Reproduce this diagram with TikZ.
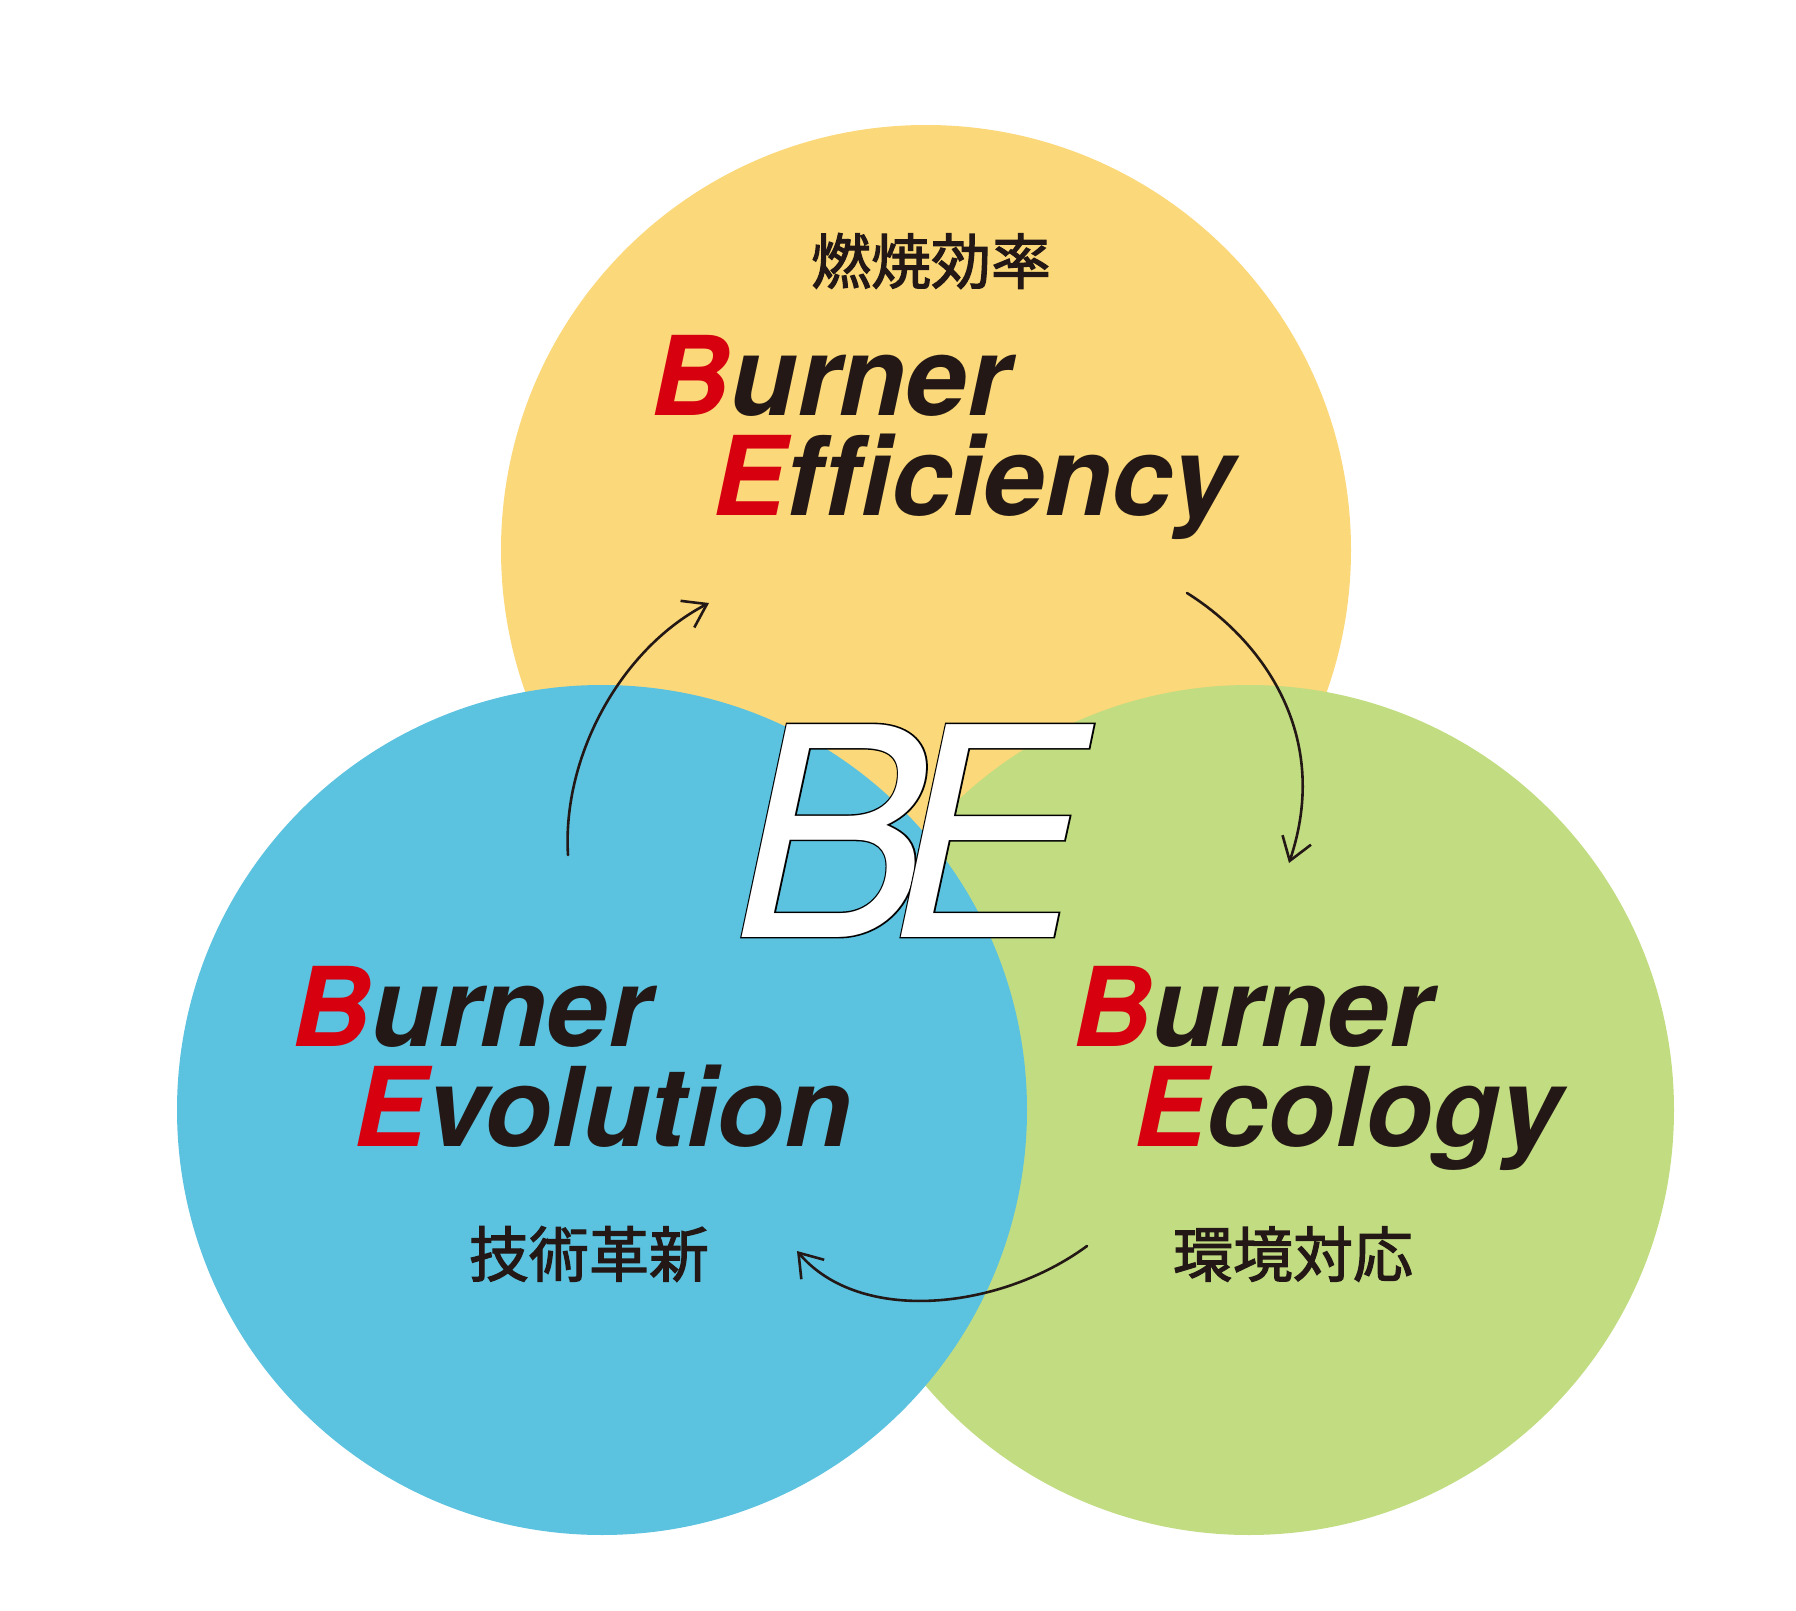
\documentclass[tikz,border=0pt]{standalone}
\usepackage{fontspec}
\usetikzlibrary{positioning, arrows.meta}
\setmainfont{TeX Gyre Heros}
\newfontfamily\burnerfont{TeX Gyre Heros}[Ligatures=CommonOff]
\newfontfamily\befont{TeX Gyre Heros}
\newfontfamily\beline{TeX Gyre Heros}[FakeBold=1.0]
\newfontfamily\jafont{Noto Sans CJK JP}[FakeBold=2]

\definecolor{effyellow}{HTML}{FBD879}
\definecolor{evoblue}{HTML}{5BC2E0}
\definecolor{ecogreen}{HTML}{C2DC82}
\definecolor{bered}{HTML}{D7000F}
\definecolor{ink}{HTML}{231815}

\newcommand{\burner}[2]{\textcolor{bered}{#1}#2}

\begin{document}
\begin{tikzpicture}[x=0.5pt, y=-0.5pt,
    word/.style={anchor=base west, inner sep=0pt, text=ink,
        font=\burnerfont\bfseries\itshape\fontsize{55pt}{55pt}\selectfont},
    kanji/.style={inner sep=0pt, text=ink, font=\jafont\fontsize{30pt}{30pt}\selectfont},
    bigline/.style={anchor=base west, inner sep=0pt, text=black,
        font=\beline\itshape\fontsize{146pt}{146pt}\selectfont},
    bigfill/.style={anchor=base west, inner sep=0pt, text=white,
        font=\befont\itshape\fontsize{146pt}{146pt}\selectfont},
    turn/.style={draw=ink, line width=1.3pt, line cap=round,
        -{Straight Barb[length=11pt, width=15pt]}}]
    \useasboundingbox (0, 0) rectangle (1796, 1611);
    \fill [white] (0, 0) rectangle (1796, 1611);

    \fill [effyellow] (926, 550) circle [radius=425];
    \fill [ecogreen] (1249, 1110) circle [radius=425];
    \fill [evoblue] (602, 1110) circle [radius=425];

    \coordinate (upA) at (568, 855);
    \coordinate (upB) at (709, 603);
    \coordinate (rightA) at (1187, 593);
    \coordinate (rightB) at (1289, 863);
    \coordinate (downA) at (1087, 1246);
    \coordinate (downB) at (797, 1251);
    \draw [turn] (upA) .. controls (562, 755) and (622, 648) .. (upB);
    \draw [turn] (rightA) .. controls (1262, 640) and (1332, 735) .. (rightB);
    \draw [turn] (downA) .. controls (1000, 1310) and (860, 1325) .. (downB);

    \node [kanji] (effJa) at (931, 261) {燃焼効率};
    \node [kanji] (evoJa) at (589, 1254) {技術革新};
    \node [kanji] (ecoJa) at (1293, 1254) {環境対応};

    \node [word] (effB) at (650, 415) {\burner{B}{urner}};
    \node [word] (effE) at ([shift={(62, 100)}] effB.base west) {\burner{E}{fficiency}};
    \node [word] (evoB) at (291, 1046) {\burner{B}{urner}};
    \node [word] (evoE) at ([shift={(62, 100)}] evoB.base west) {\burner{E}{volution}};
    \node [word] (ecoB) at (1072, 1046) {\burner{B}{urner}};
    \node [word] (ecoE) at ([shift={(61, 100)}] ecoB.base west) {\burner{E}{cology}};

    \node [bigline] (beB) at (733, 937) {B};
    \node [bigfill] (beBfill) at (beB.base west) {B};
    \node [bigline] (beE) at (889, 937) {E};
    \node [bigfill] (beEfill) at (beE.base west) {E};
\end{tikzpicture}
\end{document}
